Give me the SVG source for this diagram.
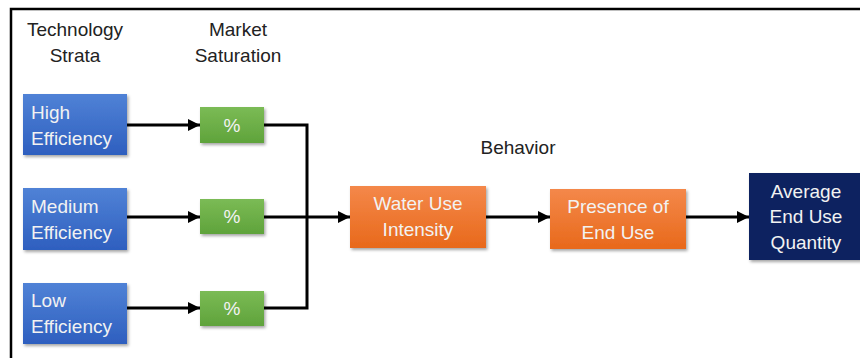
<svg xmlns="http://www.w3.org/2000/svg" width="860" height="358" viewBox="0 0 860 358">
<defs>
<linearGradient id="gBlue" x1="0" y1="0" x2="0" y2="1"><stop offset="0" stop-color="#5082d6"/><stop offset="1" stop-color="#2e5fbf"/></linearGradient>
<linearGradient id="gGreen" x1="0" y1="0" x2="0" y2="1"><stop offset="0" stop-color="#7bbb55"/><stop offset="1" stop-color="#5fa33b"/></linearGradient>
<linearGradient id="gOrange" x1="0" y1="0" x2="0" y2="1"><stop offset="0" stop-color="#f4884a"/><stop offset="1" stop-color="#e8691b"/></linearGradient>
<filter id="sh" x="-10%" y="-10%" width="130%" height="130%"><feDropShadow dx="1.5" dy="2" stdDeviation="1.5" flood-color="#000" flood-opacity="0.35"/></filter>
<marker id="ah" viewBox="0 0 10 10" refX="10" refY="5" markerWidth="4" markerHeight="4" orient="auto" markerUnits="strokeWidth"><path d="M0,0 L10,5 L0,10 z" fill="#000"/></marker>
<style>
.lbl{font-family:"Liberation Sans",Arial,sans-serif;font-size:19px;fill:#222}
.bt{font-family:"Liberation Sans",Arial,sans-serif;font-size:19px;fill:#f2f2f2}
.c{text-anchor:middle}
.conn{fill:none;stroke:#000;stroke-width:3}
</style>
</defs>
<rect width="860" height="358" fill="#fff"/>
<rect x="11" y="9" width="900" height="400" fill="none" stroke="#000" stroke-width="2.5"/>
<g id="headers">
<text class="lbl c" x="75" y="36">Technology</text>
<text class="lbl c" x="75" y="62">Strata</text>
<text class="lbl c" x="238" y="36">Market</text>
<text class="lbl c" x="238" y="62">Saturation</text>
<text class="lbl c" x="518" y="154">Behavior</text>
</g>
<g id="connectors">
<line class="conn" x1="127" y1="125" x2="200" y2="125" marker-end="url(#ah)"/>
<line class="conn" x1="127" y1="217" x2="200" y2="217" marker-end="url(#ah)"/>
<line class="conn" x1="127" y1="308" x2="200" y2="308" marker-end="url(#ah)"/>
<path class="conn" d="M264,125 H307 V308 H264"/>
<line class="conn" x1="264" y1="217" x2="350" y2="217" marker-end="url(#ah)"/>
<line class="conn" x1="486" y1="217" x2="550" y2="217" marker-end="url(#ah)"/>
<line class="conn" x1="686" y1="217" x2="749" y2="217" marker-end="url(#ah)"/>
</g>
<g id="high">
<rect x="23" y="94" width="104" height="61" fill="url(#gBlue)" filter="url(#sh)"/>
<text class="bt" x="31" y="119">High</text>
<text class="bt" x="31" y="145">Efficiency</text>
</g>
<g id="medium">
<rect x="23" y="188" width="104" height="62" fill="url(#gBlue)" filter="url(#sh)"/>
<text class="bt" x="31" y="213">Medium</text>
<text class="bt" x="31" y="239">Efficiency</text>
</g>
<g id="low">
<rect x="23" y="283" width="104" height="61" fill="url(#gBlue)" filter="url(#sh)"/>
<text class="bt" x="31" y="307">Low</text>
<text class="bt" x="31" y="333">Efficiency</text>
</g>
<g id="sat1">
<rect x="200" y="107" width="64" height="36" fill="url(#gGreen)" filter="url(#sh)"/>
<text class="bt c" x="232" y="132">%</text>
</g>
<g id="sat2">
<rect x="200" y="199" width="64" height="35" fill="url(#gGreen)" filter="url(#sh)"/>
<text class="bt c" x="232" y="223">%</text>
</g>
<g id="sat3">
<rect x="200" y="291" width="64" height="35" fill="url(#gGreen)" filter="url(#sh)"/>
<text class="bt c" x="232" y="315">%</text>
</g>
<g id="water">
<rect x="350" y="186" width="136" height="62" fill="url(#gOrange)" filter="url(#sh)"/>
<text class="bt c" x="418" y="210">Water Use</text>
<text class="bt c" x="418" y="236">Intensity</text>
</g>
<g id="presence">
<rect x="550" y="189" width="136" height="60" fill="url(#gOrange)" filter="url(#sh)"/>
<text class="bt c" x="618" y="213">Presence of</text>
<text class="bt c" x="618" y="239">End Use</text>
</g>
<g id="average">
<rect x="749" y="173" width="112" height="87" fill="#0f2461" filter="url(#sh)"/>
<text class="bt c" x="806" y="198">Average</text>
<text class="bt c" x="806" y="223">End Use</text>
<text class="bt c" x="806" y="249">Quantity</text>
</g>
</svg>
